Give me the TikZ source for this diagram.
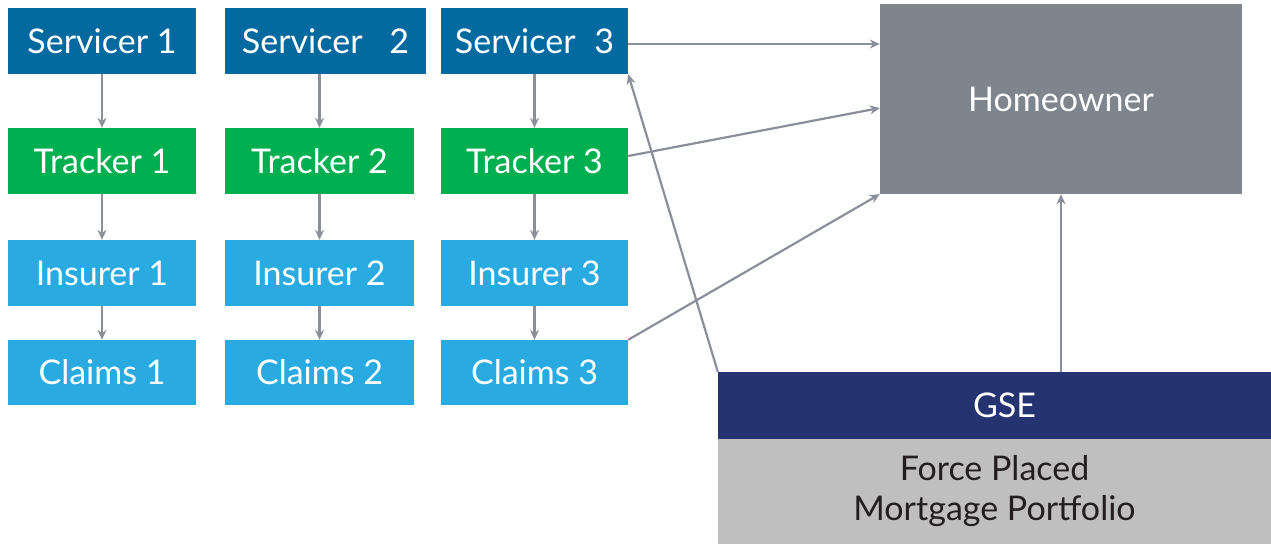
\documentclass[tikz,border=0pt]{standalone}
\usepackage{fontspec}
\setmainfont{Lato}
\usetikzlibrary{arrows.meta}
\definecolor{servc}{HTML}{026A9E}
\definecolor{trackc}{HTML}{00B050}
\definecolor{insc}{HTML}{29ABE2}
\definecolor{homec}{HTML}{7F858D}
\definecolor{gsec}{HTML}{253470}
\definecolor{fpc}{HTML}{BFBFBF}
\definecolor{arrc}{HTML}{8A9099}
\definecolor{fptext}{HTML}{231F20}
\begin{document}
\begin{tikzpicture}[x=1pt,y=-1pt,
  box/.style={inner sep=0pt, text=white, font=\fontsize{34}{40}\selectfont},
  col1/.style={box, minimum width=188pt},
  col2/.style={box, minimum width=189pt},
  col3/.style={box, minimum width=187pt},
  serv/.style={fill=servc, minimum height=66pt},
  track/.style={fill=trackc, minimum height=66pt},
  ins/.style={fill=insc, minimum height=66pt},
  claim/.style={fill=insc, minimum height=65pt},
  arr/.style={draw=arrc, line width=2.2pt, -{Stealth[length=10pt,width=9pt]}}]
\useasboundingbox (0,0) rectangle (1271,544);

% column 1
\node[col1, serv]  (s1) at (102,41)    {Servicer 1};
\node[col1, track] (t1) at (102,161)   {Tracker 1};
\node[col1, ins]   (i1) at (102,273)   {Insurer 1};
\node[col1, claim] (c1) at (102,372.5) {Claims 1};
% column 2
\node[box, serv, minimum width=201pt] (s2) at (325.5,41) {Servicer\hspace{18pt} 2};
\node[col2, track] (t2) at (319.5,161)   {Tracker 2};
\node[col2, ins]   (i2) at (319.5,273)   {Insurer 2};
\node[col2, claim] (c2) at (319.5,372.5) {Claims 2};
% column 3
\node[col3, serv]  (s3) at (534.5,41)    {Servicer\hspace{10pt} 3};
\node[col3, track] (t3) at (534.5,161)   {Tracker 3};
\node[col3, ins]   (i3) at (534.5,273)   {Insurer 3};
\node[col3, claim] (c3) at (534.5,372.5) {Claims 3};

% right side
\node[box, fill=homec, minimum width=362pt, minimum height=190pt] (h) at (1061,99) {Homeowner};
\node[box, fill=gsec, minimum width=553pt, minimum height=67pt] (g) at (994.5,405.5) {\hspace{20pt}GSE};
\node[box, fill=fpc, text=fptext, minimum width=553pt, minimum height=105pt, align=center] (fp) at (994.5,491.5) {Force Placed\\Mortgage Portfolio};

% vertical arrows
\draw[arr] (s1.south) -- (t1.north);
\draw[arr] (t1.south) -- (i1.north);
\draw[arr] (i1.south) -- (c1.north);
\draw[arr] (t2.north |- s2.south) -- (t2.north);
\draw[arr] (t2.south) -- (i2.north);
\draw[arr] (i2.south) -- (c2.north);
\draw[arr] (s3.south) -- (t3.north);
\draw[arr] (t3.south) -- (i3.north);
\draw[arr] (i3.south) -- (c3.north);

% to homeowner
\draw[arr] ([yshift=-3pt]s3.east) -- ([yshift=-3pt]s3.east -| h.west);
\draw[arr] ([yshift=5pt]t3.east) -- ([yshift=-9pt]h.west);
\draw[arr] (c3.north east) -- (h.south west);
\draw[arr] (h.south |- g.north) -- (h.south);
\draw[arr] (g.north west) -- (s3.south east);
\end{tikzpicture}
\end{document}
